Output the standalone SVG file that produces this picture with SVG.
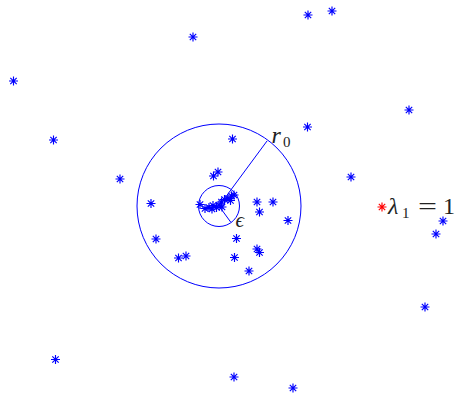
<svg xmlns="http://www.w3.org/2000/svg" xmlns:xlink="http://www.w3.org/1999/xlink" width="456" height="394" viewBox="0 0 456 394">
<style>
.st{fill:none;stroke:#0000ff;stroke-width:1.15}
.red{stroke:#ff0000}
.circ{fill:none;stroke:#0000ff;stroke-width:1}
.lbl{font-family:"Liberation Serif","DejaVu Serif",serif;fill:#222}
</style>
<defs>
<path id="s" d="M-4.5,0H4.5M0,-4.5V4.5M-3.2,-3.2L3.2,3.2M-3.2,3.2L3.2,-3.2"/>
</defs>
<rect width="456" height="394" fill="#fff"/>
<g id="circles">
<circle class="circ" cx="219" cy="206" r="82"/>
<circle class="circ" cx="219" cy="206" r="20.5"/>
</g>
<g id="connectors">
<line class="circ" x1="219" y1="206" x2="267" y2="141"/>
<line class="circ" x1="219" y1="206" x2="231" y2="222.5"/>
</g>
<g id="outer-points" class="st">
<use href="#s" x="193" y="37"/>
<use href="#s" x="308" y="15"/>
<use href="#s" x="332" y="11"/>
<use href="#s" x="13.5" y="81"/>
<use href="#s" x="409" y="110"/>
<use href="#s" x="53.5" y="140"/>
<use href="#s" x="307.5" y="127"/>
<use href="#s" x="120" y="179"/>
<use href="#s" x="351" y="177"/>
<use href="#s" x="443" y="221"/>
<use href="#s" x="436" y="234"/>
<use href="#s" x="425" y="307"/>
<use href="#s" x="55.5" y="359.5"/>
<use href="#s" x="234" y="377"/>
<use href="#s" x="293" y="388"/>
</g>
<g id="inner-points" class="st">
<use href="#s" x="232.5" y="139"/>
<use href="#s" x="218" y="172"/>
<use href="#s" x="213.5" y="176"/>
<use href="#s" x="151" y="203.5"/>
<use href="#s" x="156" y="239"/>
<use href="#s" x="178.5" y="258"/>
<use href="#s" x="186" y="256"/>
<use href="#s" x="257" y="202"/>
<use href="#s" x="273" y="202"/>
<use href="#s" x="259.5" y="212"/>
<use href="#s" x="288" y="220.5"/>
<use href="#s" x="236.5" y="238.5"/>
<use href="#s" x="257" y="249"/>
<use href="#s" x="259.5" y="252.5"/>
<use href="#s" x="234.5" y="257.5"/>
<use href="#s" x="249" y="271"/>
</g>
<g id="cluster-points" class="st">
<use href="#s" x="200" y="204.5"/>
<use href="#s" x="205" y="208.5"/>
<use href="#s" x="209" y="207.5"/>
<use href="#s" x="212" y="209"/>
<use href="#s" x="213" y="205.5"/>
<use href="#s" x="216.5" y="207.5"/>
<use href="#s" x="219" y="205"/>
<use href="#s" x="222" y="207"/>
<use href="#s" x="221.5" y="202"/>
<use href="#s" x="224.5" y="199.5"/>
<use href="#s" x="228" y="198.5"/>
<use href="#s" x="230.5" y="200.5"/>
<use href="#s" x="231.5" y="196"/>
<use href="#s" x="234" y="195"/>
</g>
<g id="lambda1">
<use href="#s" class="st red" x="382" y="207"/>
<text class="lbl" x="388" y="213.5" font-size="24" font-style="italic">λ</text>
<text class="lbl" x="402" y="218" font-size="15">1</text>
<text class="lbl" x="418" y="213.5" font-size="24" textLength="19" lengthAdjust="spacingAndGlyphs">=</text>
<text class="lbl" x="443" y="213.5" font-size="24">1</text>
</g>
<g id="label-r0">
<text class="lbl" x="271.5" y="143" font-size="24" font-style="italic">r</text>
<text class="lbl" x="283" y="147" font-size="15">0</text>
</g>
<g id="label-eps">
<text class="lbl" x="235.5" y="227" font-size="21" font-style="italic">ϵ</text>
</g>
</svg>
